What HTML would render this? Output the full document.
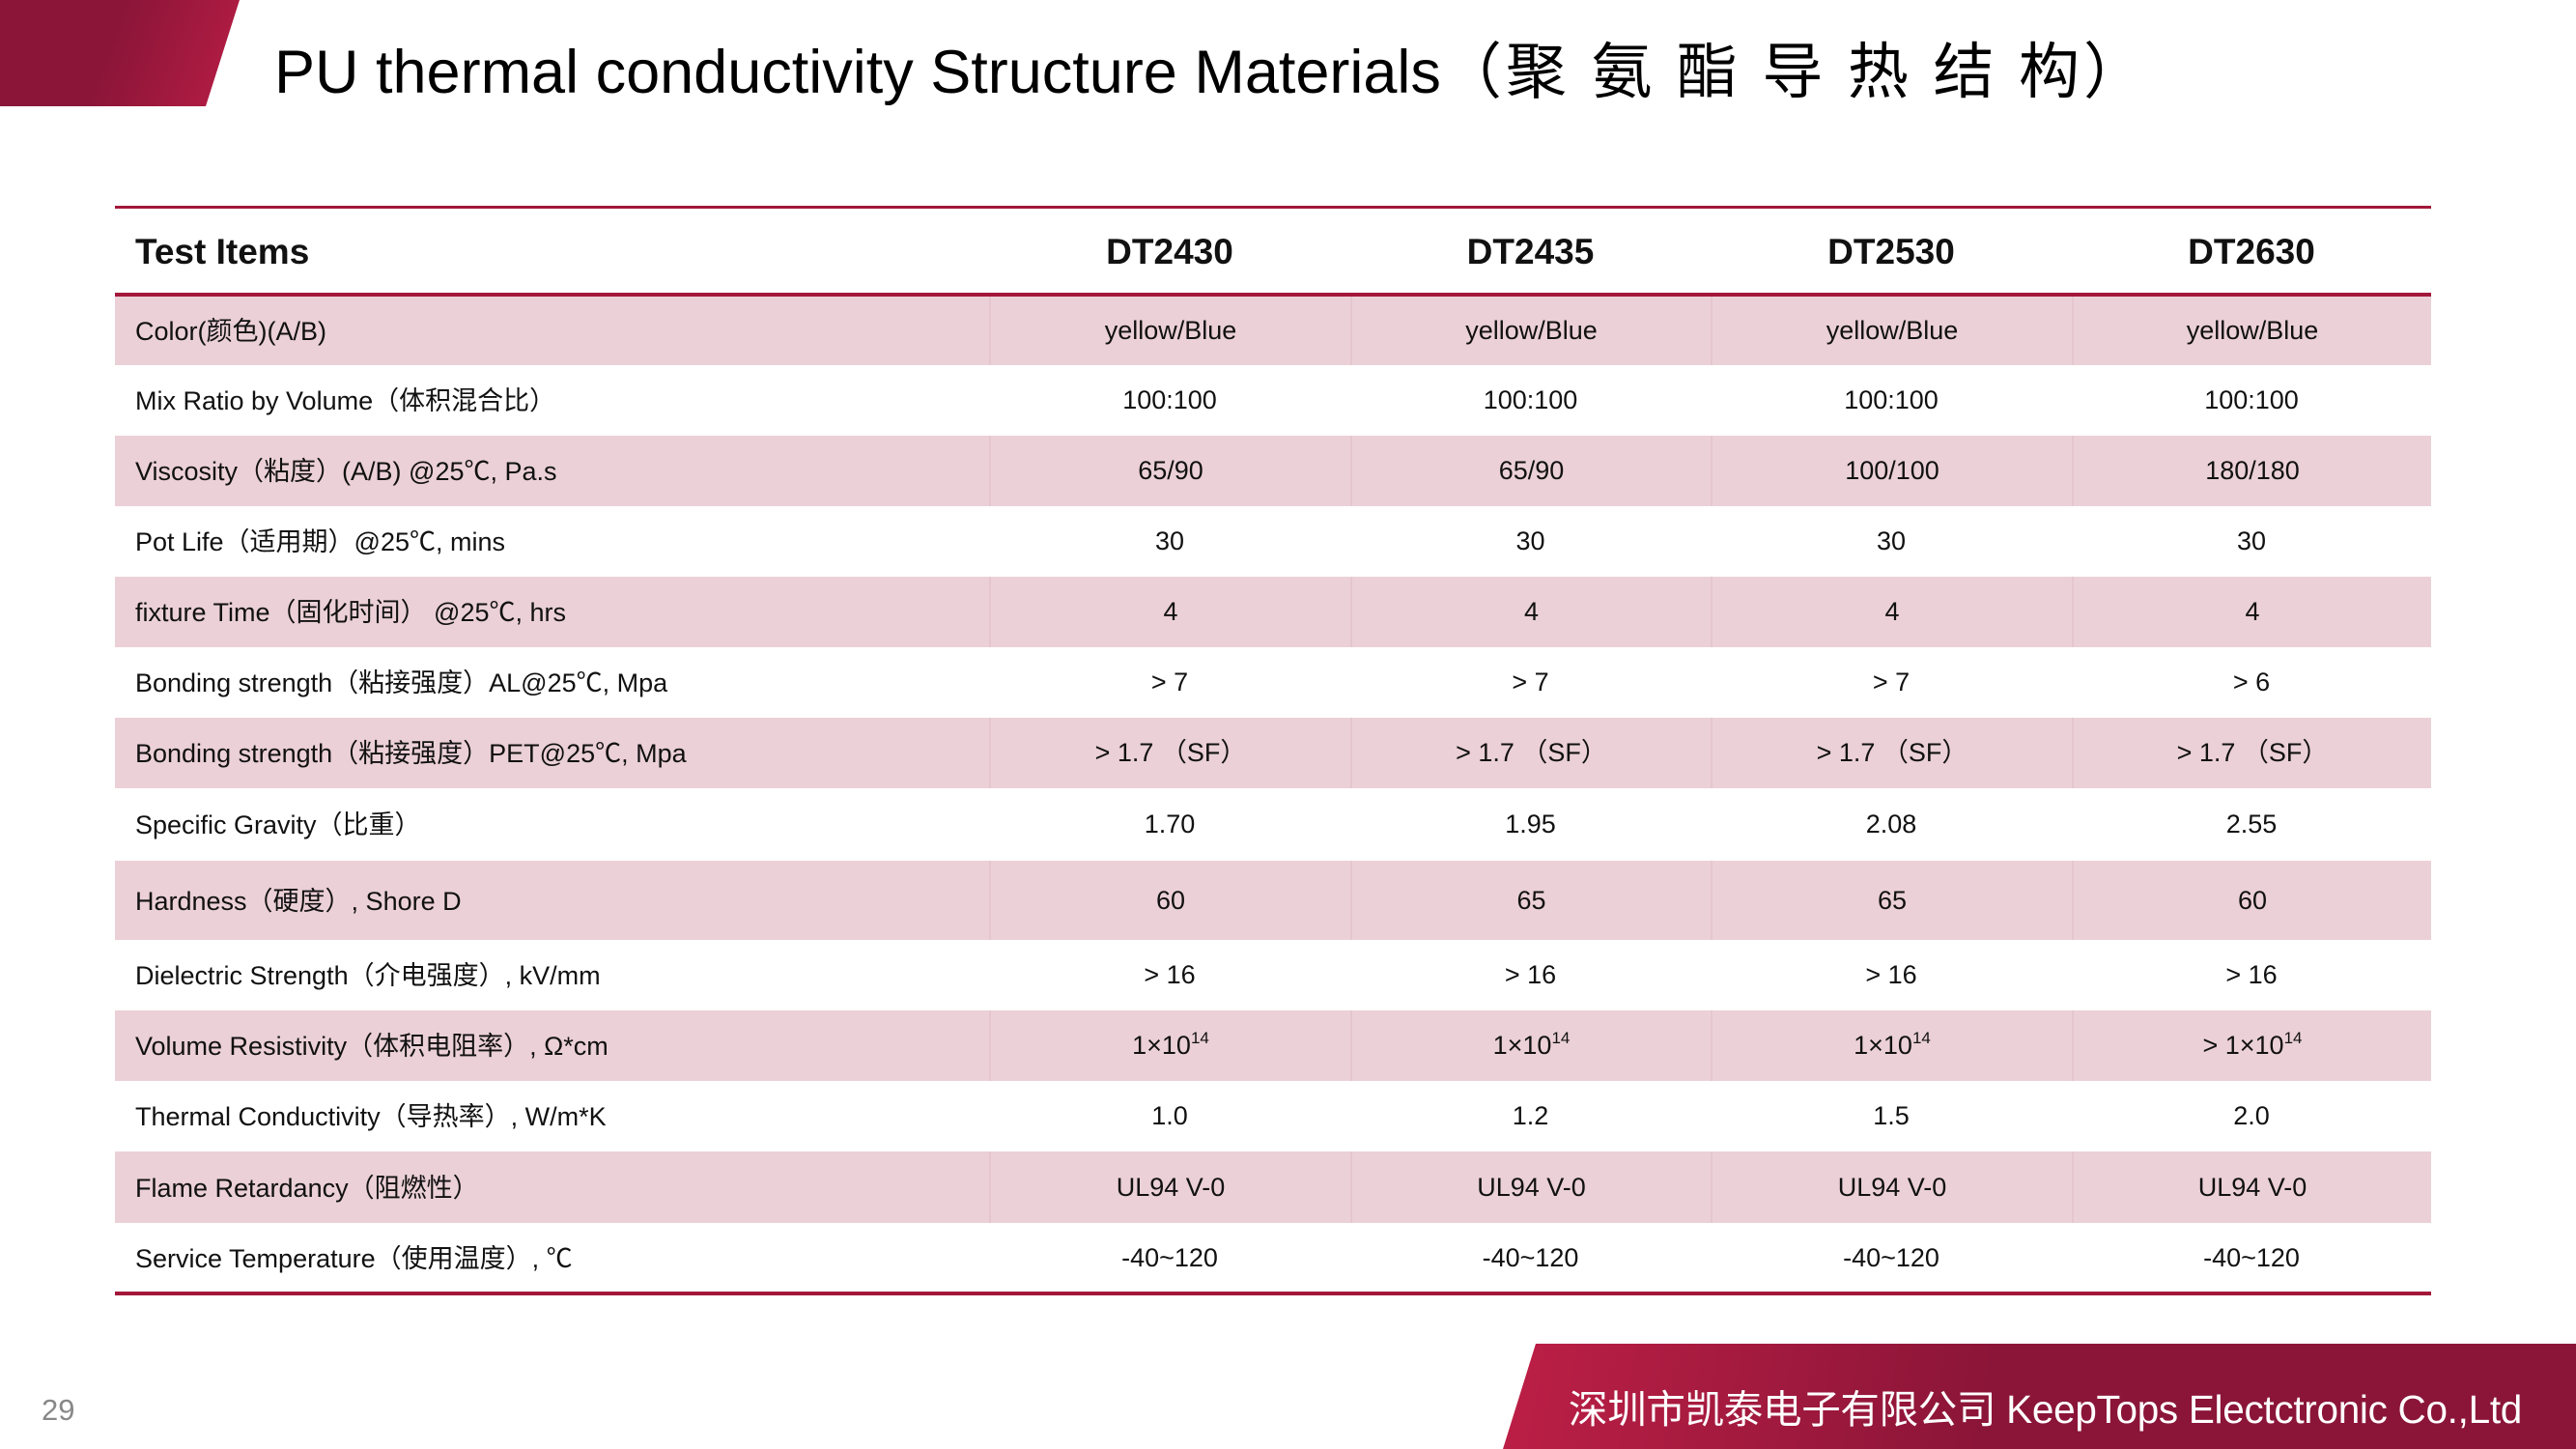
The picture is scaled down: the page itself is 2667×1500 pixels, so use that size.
<!DOCTYPE html>
<html><head><meta charset="utf-8"><style>
*{margin:0;padding:0;box-sizing:border-box}
body{width:2667px;height:1500px;position:relative;background:#fff;overflow:hidden;font-family:"Liberation Sans","Noto Sans CJK SC",sans-serif;color:#111}
.tl{position:absolute;left:0;top:0;width:248px;height:110px;background:linear-gradient(110deg,#8a1538 45%,#b81d45);clip-path:polygon(0 0,248px 0,213px 110px,0 110px)}
.title{position:absolute;left:284px;top:38px;font-size:63px;white-space:nowrap;color:#000;line-height:1.2}
.title span{letter-spacing:4px}
.line{position:absolute;left:119px;width:2398px;background:#a3173a}
.row{position:absolute;left:119px;width:2398px;font-size:27px}
.row.p{background:#ebd0d8}
.row div{position:absolute;top:0;height:100%;display:flex;align-items:center;line-height:1}
.row div span{display:inline-block;line-height:1}
.c0{left:21px}
.c0 span{position:relative;top:1px}
.c{justify-content:center}
.c1{left:905px;width:374px}.c2{left:1279px;width:373px}.c3{left:1652px;width:374px}.c4{left:2026px;width:372px}
.p .c2,.p .c3,.p .c4,.p .c1{border-left:2px solid #e5c6cf}
.hd{font-weight:bold;font-size:37px}
sup{font-size:17px;position:relative;top:-8px;vertical-align:baseline}
.ft{position:absolute;left:1556px;top:1391px;width:1111px;height:109px;background:linear-gradient(100deg,#bd1f46 0%,#8b1538 45%,#8b1538);clip-path:polygon(34px 0,1111px 0,1111px 109px,0 109px)}
.ftt{position:absolute;left:1624px;top:1426px;font-size:40.5px;color:#fff;white-space:nowrap;letter-spacing:-0.3px}
.pn{position:absolute;left:43px;top:1442px;font-size:31px;color:#888}
</style></head><body>
<div class="tl"></div>
<div class="title">PU thermal conductivity Structure Materials<span>（聚 氨 酯 导 热 结 构）</span></div>
<div class="line" style="top:213px;height:3px"></div>
<div class="row" style="top:216px;height:88px"><div class="c0 hd">Test Items</div><div class="c c1 hd">DT2430</div><div class="c c2 hd">DT2435</div><div class="c c3 hd">DT2530</div><div class="c c4 hd">DT2630</div></div>
<div class="line" style="top:303px;height:4px"></div>
<div class="row p" style="top:307px;height:71px"><div class="c0"><span>Color(颜色)(A/B)</span></div><div class="c c1">yellow/Blue</div><div class="c c2">yellow/Blue</div><div class="c c3">yellow/Blue</div><div class="c c4">yellow/Blue</div></div>
<div class="row" style="top:378px;height:73px"><div class="c0"><span>Mix Ratio by Volume（体积混合比）</span></div><div class="c c1">100:100</div><div class="c c2">100:100</div><div class="c c3">100:100</div><div class="c c4">100:100</div></div>
<div class="row p" style="top:451px;height:73px"><div class="c0"><span>Viscosity（粘度）(A/B) @25℃, Pa.s</span></div><div class="c c1">65/90</div><div class="c c2">65/90</div><div class="c c3">100/100</div><div class="c c4">180/180</div></div>
<div class="row" style="top:524px;height:73px"><div class="c0"><span>Pot Life（适用期）@25℃, mins</span></div><div class="c c1">30</div><div class="c c2">30</div><div class="c c3">30</div><div class="c c4">30</div></div>
<div class="row p" style="top:597px;height:73px"><div class="c0"><span>fixture Time（固化时间） @25℃, hrs</span></div><div class="c c1">4</div><div class="c c2">4</div><div class="c c3">4</div><div class="c c4">4</div></div>
<div class="row" style="top:670px;height:73px"><div class="c0"><span>Bonding strength（粘接强度）AL@25℃, Mpa</span></div><div class="c c1">&gt; 7</div><div class="c c2">&gt; 7</div><div class="c c3">&gt; 7</div><div class="c c4">&gt; 6</div></div>
<div class="row p" style="top:743px;height:73px"><div class="c0"><span>Bonding strength（粘接强度）PET@25℃, Mpa</span></div><div class="c c1">&gt; 1.7 （SF）</div><div class="c c2">&gt; 1.7 （SF）</div><div class="c c3">&gt; 1.7 （SF）</div><div class="c c4">&gt; 1.7 （SF）</div></div>
<div class="row" style="top:816px;height:75px"><div class="c0"><span>Specific Gravity（比重）</span></div><div class="c c1">1.70</div><div class="c c2">1.95</div><div class="c c3">2.08</div><div class="c c4">2.55</div></div>
<div class="row p" style="top:891px;height:82px"><div class="c0"><span>Hardness（硬度）, Shore D</span></div><div class="c c1">60</div><div class="c c2">65</div><div class="c c3">65</div><div class="c c4">60</div></div>
<div class="row" style="top:973px;height:73px"><div class="c0"><span>Dielectric Strength（介电强度）, kV/mm</span></div><div class="c c1">&gt; 16</div><div class="c c2">&gt; 16</div><div class="c c3">&gt; 16</div><div class="c c4">&gt; 16</div></div>
<div class="row p" style="top:1046px;height:73px"><div class="c0"><span>Volume Resistivity（体积电阻率）, Ω*cm</span></div><div class="c c1">1×10<sup>14</sup></div><div class="c c2">1×10<sup>14</sup></div><div class="c c3">1×10<sup>14</sup></div><div class="c c4">&gt; 1×10<sup>14</sup></div></div>
<div class="row" style="top:1119px;height:73px"><div class="c0"><span>Thermal Conductivity（导热率）, W/m*K</span></div><div class="c c1">1.0</div><div class="c c2">1.2</div><div class="c c3">1.5</div><div class="c c4">2.0</div></div>
<div class="row p" style="top:1192px;height:74px"><div class="c0"><span>Flame Retardancy（阻燃性）</span></div><div class="c c1">UL94 V-0</div><div class="c c2">UL94 V-0</div><div class="c c3">UL94 V-0</div><div class="c c4">UL94 V-0</div></div>
<div class="row" style="top:1266px;height:72px"><div class="c0"><span>Service Temperature（使用温度）, ℃</span></div><div class="c c1">-40~120</div><div class="c c2">-40~120</div><div class="c c3">-40~120</div><div class="c c4">-40~120</div></div>
<div class="line" style="top:1337px;height:4px"></div>
<div class="ft"></div>
<div class="ftt">深圳市凯泰电子有限公司 KeepTops Electctronic Co.,Ltd</div>
<div class="pn">29</div>
</body></html>
